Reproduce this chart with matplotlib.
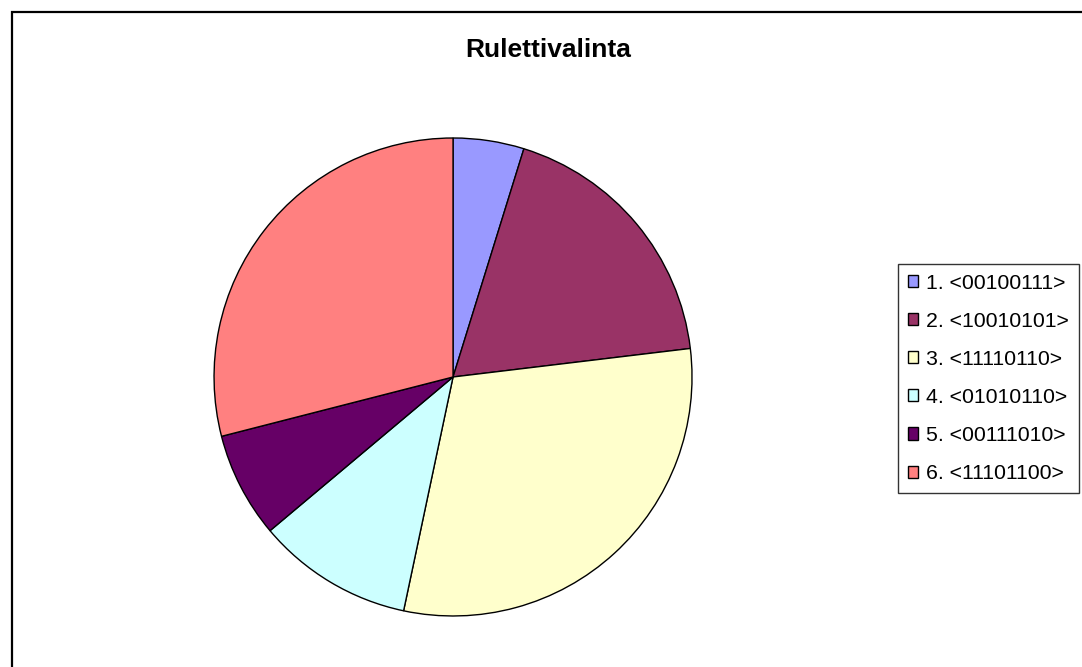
import matplotlib.pyplot as plt
from matplotlib.patches import Rectangle

plt.rcParams['font.family'] = ['Liberation Sans', 'DejaVu Sans']

# kromosomit ja niiden kelpoisuus (binääriluku desimaalina)
labels = ['1. <00100111>', '2. <10010101>', '3. <11110110>',
          '4. <01010110>', '5. <00111010>', '6. <11101100>']
values = [39, 149, 246, 86, 58, 236]
colors = ['#9999FF', '#993366', '#FFFFCC', '#CCFFFF', '#660066', '#FF8080']

fig = plt.figure(figsize=(10.82, 6.67), dpi=100)

# kehys (vain vasen ja ylä reuna näkyvät)
fig.patches.append(Rectangle((12 / 1082, -0.05), 1.1, (655 / 667) + 0.05,
                             transform=fig.transFigure, fill=False,
                             edgecolor='black', linewidth=1.6))

ax = fig.add_axes([0.1978, 0.0765, 0.4418, 0.7166])
wedges, _ = ax.pie(values, colors=colors, startangle=90, counterclock=False,
                   radius=1, wedgeprops=dict(edgecolor='black', linewidth=1))
ax.set_xlim(-1, 1)
ax.set_ylim(-1, 1)
ax.set_aspect('equal')

fig.text(548 / 1082, 1 - 50 / 667, 'Rulettivalinta', ha='center', va='center',
         fontsize=19, fontweight='bold')

leg = fig.legend(wedges, labels, loc='upper left',
                 bbox_to_anchor=(898 / 1082, 1 - 264 / 667),
                 fontsize=15.3, frameon=True, fancybox=False, shadow=False,
                 handlelength=0.5, handleheight=0.5, handletextpad=0.38,
                 labelspacing=0.9, borderpad=0.45, borderaxespad=0)
leg.get_frame().set_edgecolor('black')
leg.get_frame().set_linewidth(1)

plt.savefig('out.png')
